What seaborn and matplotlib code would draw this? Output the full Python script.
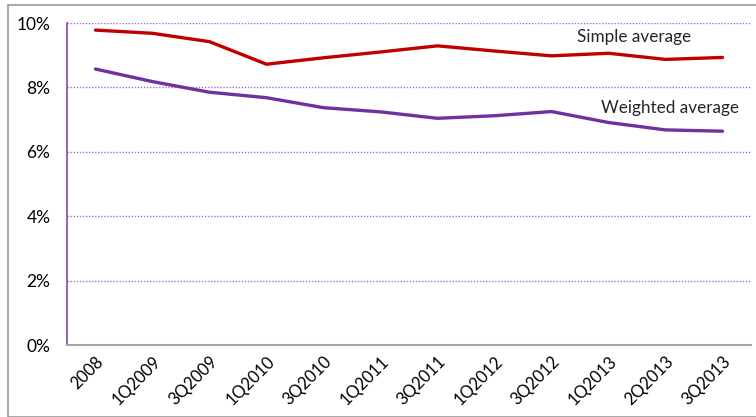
import numpy as np
import pandas as pd
import seaborn as sns
import matplotlib.pyplot as plt
from matplotlib.patches import Rectangle
from matplotlib.ticker import FuncFormatter

# quarters on the x axis
periods = ['2008', '1Q2009', '3Q2009', '1Q2010', '3Q2010', '1Q2011',
           '3Q2011', '1Q2012', '3Q2012', '1Q2013', '2Q2013', '3Q2013']
# values in percent
simple_avg = [9.78, 9.68, 9.42, 8.72, 8.92, 9.10, 9.29, 9.13, 8.98, 9.06, 8.87, 8.93]
weighted_avg = [8.57, 8.18, 7.85, 7.68, 7.37, 7.24, 7.04, 7.12, 7.25, 6.91, 6.68, 6.64]

sns.set_style('white')
plt.rcParams['font.family'] = ['Lato', 'DejaVu Sans']

df = pd.DataFrame({'period': periods * 2,
                   'value': simple_avg + weighted_avg,
                   'series': ['Simple average'] * len(periods) + ['Weighted average'] * len(periods)})
df['pos'] = np.tile(np.arange(len(periods)), 2)

fig = plt.figure(figsize=(7.56, 4.17), dpi=100)
ax = fig.add_axes([67 / 756, 1 - 345 / 417, 684 / 756, 322 / 417])

# chart frame (gray border, title above is cut off)
fig.patches.append(Rectangle((8 / 756, 0), 1, 1 - 5 / 417, transform=fig.transFigure,
                             fill=False, edgecolor='#9a9a9a', linewidth=1.2, zorder=0))

sns.lineplot(data=df, x='pos', y='value', hue='series',
             palette={'Simple average': '#C00000', 'Weighted average': '#7030A0'},
             linewidth=2.4, legend=False, ax=ax, solid_capstyle='round', solid_joinstyle='round')

ax.set_xlim(-0.5, len(periods) - 0.5)
ax.set_ylim(0, 10)
ax.set_yticks(np.arange(0, 11, 2))
ax.yaxis.set_major_formatter(FuncFormatter(lambda v, p: '{:.0f}%'.format(v)))
ax.set_xticks(np.arange(len(periods)))
ax.set_xticklabels(periods, rotation=45, ha='right', rotation_mode='anchor')
ax.set_xlabel('')
ax.set_ylabel('')
ax.tick_params(axis='y', labelsize=12.5, length=0, pad=12, colors='black')
ax.tick_params(axis='x', labelsize=12, length=0, pad=6, colors='black')

for v in np.arange(2, 11, 2):
    ax.axhline(v, color='#9b6fcf', linestyle=(0, (1, 1.2)), linewidth=1.0, zorder=0)

ax.spines['top'].set_visible(False)
ax.spines['right'].set_visible(False)
ax.spines['left'].set_color('#8a55c0')
ax.spines['left'].set_linewidth(1.3)
ax.spines['bottom'].set_color('#a6a6a6')
ax.spines['bottom'].set_linewidth(1.5)

ax.text(8.45, 9.57, 'Simple average', fontsize=12.3, ha='left', va='center')
ax.text(8.87, 7.36, 'Weighted average', fontsize=12.3, ha='left', va='center')

fig.savefig('out.png', dpi=100)
